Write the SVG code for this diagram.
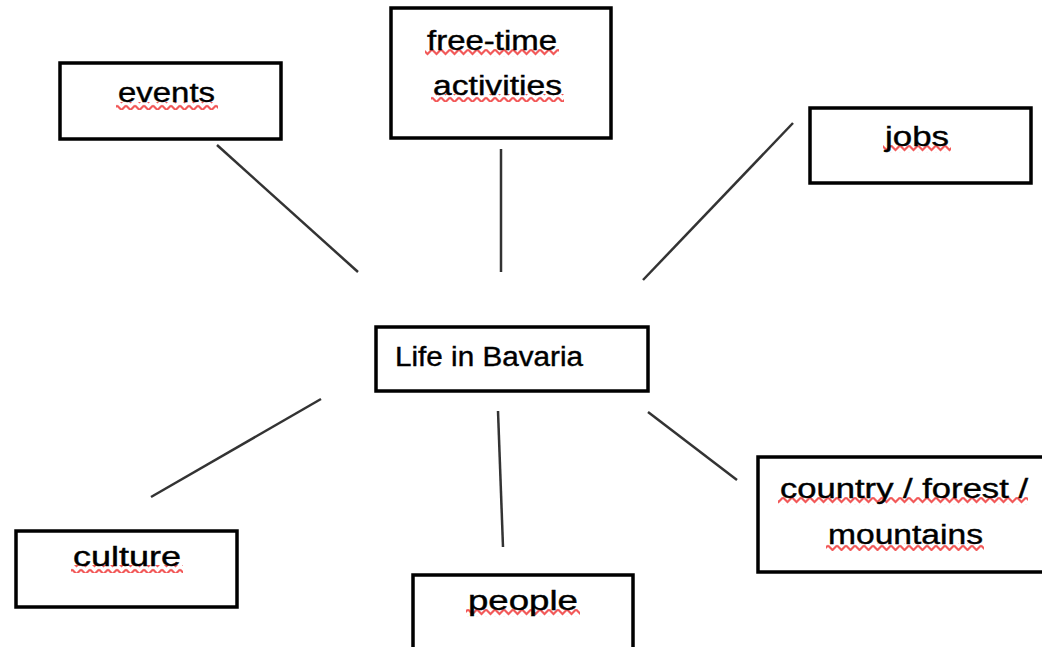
<svg xmlns="http://www.w3.org/2000/svg" width="1042" height="647" viewBox="0 0 1042 647">
<style>
.box{fill:#fff;stroke:#000;stroke-width:3.5}
.lbl{font-family:"Liberation Sans",Arial,sans-serif;font-size:27px;fill:#000;stroke:#000;stroke-width:0.4}
.con line{stroke:#333;stroke-width:2.5;stroke-linecap:butt}
.sq{fill:url(#squiggle)}
</style>
<defs>
<pattern id="squiggle" patternUnits="userSpaceOnUse" width="9" height="8">
<path d="M0,1.5 L4.5,6 L9,1.5" fill="none" stroke="#f03c3c" stroke-width="2.2" stroke-opacity="0.85"/>
</pattern>
</defs>
<rect width="1042" height="647" fill="#fff"/>
<g class="con" id="connectors">
<line x1="217" y1="145" x2="358" y2="272"/>
<line x1="501" y1="149" x2="501" y2="272"/>
<line x1="793" y1="123" x2="643" y2="280"/>
<line x1="321" y1="399" x2="151" y2="497"/>
<line x1="498" y1="411" x2="503" y2="547"/>
<line x1="648" y1="412" x2="737" y2="480"/>
</g>
<g id="center">
<rect class="box" x="376" y="327" width="272" height="64"/>
<text class="lbl" x="395" y="366" textLength="188" lengthAdjust="spacingAndGlyphs">Life in Bavaria</text>
</g>
<g id="events">
<rect class="box" x="60" y="63" width="221" height="76"/>
<rect class="sq" x="116" y="102" width="102" height="8"/>
<text class="lbl" x="118" y="102" textLength="97" lengthAdjust="spacingAndGlyphs">events</text>
</g>
<g id="freetime">
<rect class="box" x="391" y="8" width="220" height="130"/>
<rect class="sq" x="425" y="49" width="134" height="8"/>
<rect class="sq" x="431" y="94" width="133" height="8"/>
<text class="lbl" x="427" y="50" textLength="130" lengthAdjust="spacingAndGlyphs">free-time</text>
<text class="lbl" x="433" y="95" textLength="129" lengthAdjust="spacingAndGlyphs">activities</text>
</g>
<g id="jobs">
<rect class="box" x="810" y="108" width="221" height="75"/>
<rect class="sq" x="883" y="145" width="68" height="8"/>
<text class="lbl" x="885" y="146" textLength="64" lengthAdjust="spacingAndGlyphs">jobs</text>
</g>
<g id="culture">
<rect class="box" x="16" y="531" width="221" height="76"/>
<rect class="sq" x="71" y="565" width="112" height="8"/>
<text class="lbl" x="73" y="566" textLength="108" lengthAdjust="spacingAndGlyphs">culture</text>
</g>
<g id="people">
<rect class="box" x="413" y="575" width="220" height="80"/>
<rect class="sq" x="466" y="609" width="114" height="8"/>
<text class="lbl" x="468" y="610" textLength="110" lengthAdjust="spacingAndGlyphs">people</text>
</g>
<g id="country">
<rect class="box" x="758" y="457" width="290" height="115"/>
<rect class="sq" x="778" y="497" width="250" height="8"/>
<rect class="sq" x="826" y="543" width="158" height="8"/>
<text class="lbl" x="780" y="498" textLength="248" lengthAdjust="spacingAndGlyphs">country / forest /</text>
<text class="lbl" x="828" y="544" textLength="155" lengthAdjust="spacingAndGlyphs">mountains</text>
</g>
</svg>
